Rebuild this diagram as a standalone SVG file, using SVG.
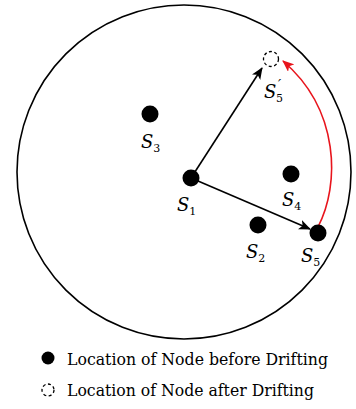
<svg xmlns="http://www.w3.org/2000/svg" width="356" height="409" viewBox="0 0 356 409">
<style>
text{font-family:'DejaVu Serif',serif;fill:#000}
.lbl{font-size:18px}
.s{font-style:italic}
.sub{font-size:11px}
.dot{fill:#000}
.dash{fill:none;stroke:#000;stroke-width:1.3;stroke-dasharray:3,2.5}
.conn{fill:none;stroke:#000;stroke-width:1.6}
.red{fill:none;stroke:#e8141c;stroke-width:1.6}
.leg{font-size:16px}
</style>
<defs>
<marker id="ah" viewBox="0 0 12 10" refX="11" refY="5" markerWidth="12" markerHeight="10" markerUnits="userSpaceOnUse" orient="auto">
<path d="M0,0 L12,5 L0,10 L3,5 Z" fill="#000"/>
</marker>
<marker id="ahr" viewBox="0 0 12 10" refX="11" refY="5" markerWidth="12" markerHeight="10" markerUnits="userSpaceOnUse" orient="auto">
<path d="M0,0 L12,5 L0,10 L3,5 Z" fill="#e8141c"/>
</marker>
</defs>
<rect width="356" height="409" fill="#fff"/>
<circle id="region" cx="184" cy="172" r="167" fill="none" stroke="#000" stroke-width="1.6"/>
<g id="connectors">
<line class="conn" x1="191" y1="178" x2="262" y2="68" marker-end="url(#ah)"/>
<line class="conn" x1="191" y1="178" x2="310" y2="229" marker-end="url(#ah)"/>
<path class="red" d="M318,227 C340,185 340,110 283,61" marker-end="url(#ahr)"/>
</g>
<g id="S1"><circle class="dot" cx="191" cy="178" r="8.5"/><text class="lbl" x="177" y="211"><tspan class="s">S</tspan><tspan class="sub" dy="4">1</tspan></text></g>
<g id="S2"><circle class="dot" cx="258" cy="225" r="8.5"/><text class="lbl" x="246" y="258"><tspan class="s">S</tspan><tspan class="sub" dy="4">2</tspan></text></g>
<g id="S3"><circle class="dot" cx="150" cy="114" r="8.5"/><text class="lbl" x="141" y="148"><tspan class="s">S</tspan><tspan class="sub" dy="4">3</tspan></text></g>
<g id="S4"><circle class="dot" cx="291" cy="174" r="8.5"/><text class="lbl" x="282" y="206"><tspan class="s">S</tspan><tspan class="sub" dy="4">4</tspan></text></g>
<g id="S5"><circle class="dot" cx="318" cy="233" r="8.5"/><text class="lbl" x="301" y="262"><tspan class="s">S</tspan><tspan class="sub" dy="4">5</tspan></text></g>
<g id="S5p"><circle class="dash" cx="271" cy="59" r="7.5"/><text class="lbl" x="264" y="98"><tspan class="s">S</tspan></text><text class="s" style="font-size:14px" x="278" y="90">′</text><text class="sub" x="276" y="102">5</text></g>
<g id="legend-before"><circle class="dot" cx="48" cy="358" r="6.5"/><text class="leg" x="67" y="365" textLength="261" lengthAdjust="spacingAndGlyphs">Location of Node before Drifting</text></g>
<g id="legend-after"><circle class="dash" cx="48" cy="390" r="6"/><text class="leg" x="67" y="396" textLength="247" lengthAdjust="spacingAndGlyphs">Location of Node after Drifting</text></g>
</svg>
